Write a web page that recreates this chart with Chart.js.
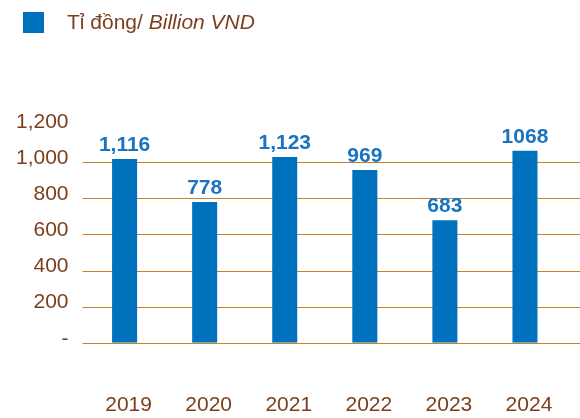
<!DOCTYPE html>
<html>
<head>
<meta charset="utf-8">
<script src="https://cdn.jsdelivr.net/npm/chart.js@4.4.1/dist/chart.umd.min.js"></script>
<style>
    html, body { margin: 0; padding: 0; background: #fff; }
    #wrap { position: relative; width: 580px; height: 418px; }
    #legend {
        position: absolute; left: 23px; top: 10px;
        font-family: "Liberation Sans", Arial, sans-serif; font-size: 21px;
        color: #7b3f1c; display: flex; align-items: center;
    }
    #legend .box { width: 21px; height: 21px; background: #0071bc; margin-right: 23px; }
</style>
</head>
<body>
<div id="wrap">
    <canvas id="chart" width="580" height="418"></canvas>
    <div id="legend"><span class="box"></span><span>Tỉ đồng/ <i>Billion VND</i></span></div>
</div>
<script>
// 연도별 값 (막대 높이는 그림에서 읽은 값, 라벨은 그림에 적힌 텍스트)
const years = ["2019", "2020", "2021", "2022", "2023", "2024"];
const barValues = [1018, 779, 1029, 957, 678, 1063];
const valueLabels = ["1,116", "778", "1,123", "969", "683", "1068"];
const yTicks = [0, 200, 400, 600, 800, 1000, 1200];

const brown = "#7b3f1c";
const gridColor = "#c98128";
const barColor = "#0071bc";
const fontFamily = "'Liberation Sans', Arial, sans-serif";

/** 가로 격자선: 차트 영역 왼쪽부터 캔버스 오른쪽 끝까지 */
const gridPlugin = {
    id: "fullGrid",
    beforeDatasetsDraw(chart) {
        const ctx = chart.ctx;
        const y = chart.scales.y;
        ctx.save();
        ctx.strokeStyle = gridColor;
        ctx.lineWidth = 1.2;
        yTicks.forEach(v => {
            if (v === yTicks[yTicks.length - 1]) return;
            const py = Math.round(y.getPixelForValue(v)) + 0.5;
            ctx.beginPath();
            ctx.moveTo(chart.chartArea.left - 2, py);
            ctx.lineTo(chart.width, py);
            ctx.stroke();
        });
        ctx.restore();
    }
};

/** 막대 위 값 라벨 */
const labelPlugin = {
    id: "valueLabels",
    afterDatasetsDraw(chart) {
        const ctx = chart.ctx;
        const meta = chart.getDatasetMeta(0);
        ctx.save();
        ctx.font = "bold 21px " + fontFamily;
        ctx.fillStyle = "#1a74bf";
        ctx.textAlign = "center";
        ctx.textBaseline = "alphabetic";
        meta.data.forEach((bar, i) => {
            ctx.fillText(valueLabels[i], bar.x, bar.y - 8);
        });
        ctx.restore();
    }
};

new Chart(document.getElementById("chart"), {
    type: "bar",
    data: {
        labels: years,
        datasets: [{
            data: barValues,
            backgroundColor: barColor,
            barPercentage: 0.3125,
            categoryPercentage: 1
        }]
    },
    options: {
        responsive: false,
        animation: false,
        layout: { padding: { top: 126, left: 0, right: 15, bottom: -50 } },
        plugins: { legend: { display: false }, tooltip: { enabled: false } },
        scales: {
            x: {
                grid: { display: false, drawTicks: false },
                border: { display: false },
                afterFit: scale => { scale.paddingLeft = 0; scale.paddingRight = 0; },
                ticks: {
                    color: brown,
                    padding: 50,
                    labelOffset: 4,
                    font: { family: fontFamily, size: 21 }
                }
            },
            y: {
                min: 0,
                max: 1200,
                afterBuildTicks: axis => { axis.ticks = yTicks.map(v => ({ value: v })); },
                grid: { display: false, drawTicks: false },
                border: { display: false },
                ticks: {
                    color: brown,
                    padding: 16,
                    labelOffset: -4,
                    font: { family: fontFamily, size: 21 },
                    callback: v => v === 0 ? "-" : v.toLocaleString("en-US")
                }
            }
        }
    },
    plugins: [gridPlugin, labelPlugin]
});
</script>
</body>
</html>
